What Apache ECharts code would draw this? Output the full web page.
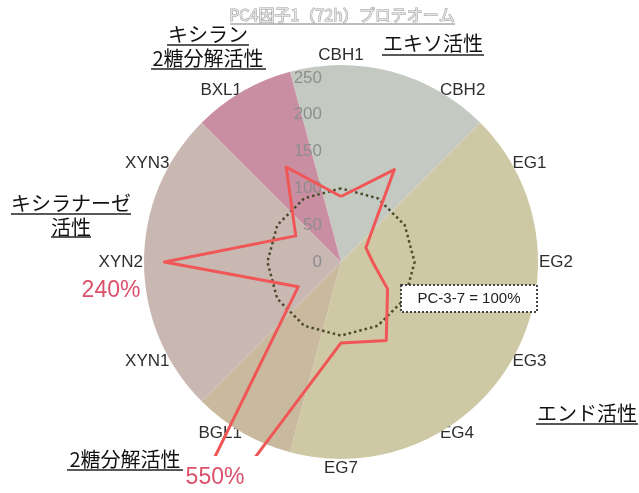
<!DOCTYPE html>
<html>
<head>
<meta charset="utf-8">
<script src="https://cdn.jsdelivr.net/npm/echarts@6/dist/echarts.min.js"></script>
<style>
html,body{margin:0;padding:0;background:#fff;}
#chart{width:639px;height:493px;}
</style>
</head>
<body>
<div id="chart"></div>
<script>
// Indicators, clockwise from top
const indicators = ['CBH1','CBH2','EG1','EG2','EG3','EG4','EG7','BGL1','XYN1','XYN2','XYN3','BXL1'];
// PC4 factor 1 (72h) proteome, % of PC-3-7
const pcValues = [89, 145, 39, 43, 73, 123, 110, 550, 67, 240, 71, 149];
// Reference PC-3-7 = 100%
const refValues = [100, 100, 100, 100, 100, 100, 100, 100, 100, 100, 100, 100];
// Radial tick labels
const tickLabels = [0, 50, 100, 150, 200, 250];
const axisMax = 250;
// Background groups (clockwise, in number of indicators)
const groupNames = ['exo', 'endo', 'bgl', 'xyn', 'bxl'];
const groupSizes = [2, 5, 1, 3, 1];
const groupColors = ['#c4cac2', '#cec9a4', '#c9b99f', '#c9b8b2', '#c98ea1'];

// ECharts radar runs counter-clockwise; reorder to get clockwise layout
const order = [0].concat(indicators.map((_, i) => i).slice(1).reverse());
const indOrdered = order.map((i, k) => ({
  name: indicators[i], min: 0, max: axisMax,
  axisLabel: { show: k === 0 }
}));
const pcOrdered = order.map(i => pcValues[i]);
const refOrdered = order.map(i => refValues[i]);

const CX = 341, CY = 262, R = 184;
const jp = '"Noto Sans CJK JP", sans-serif';
const lat = '"Liberation Sans", Arial, sans-serif';

const chart = echarts.init(document.getElementById('chart'), null, { renderer: 'canvas' });
const option = {
  animation: false,
  backgroundColor: '#ffffff',
  radar: {
    center: [CX, CY],
    radius: R,
    startAngle: 90,
    shape: 'polygon',
    splitNumber: tickLabels.length - 1,
    indicator: indOrdered,
    nameGap: 14,
    axisName: { color: '#2e2e2e', fontSize: 17, fontFamily: lat },
    axisLine: { show: false },
    axisTick: { show: false },
    axisLabel: { show: true, color: '#8e8e8e', fontSize: 17, margin: 19, fontFamily: lat },
    splitLine: { lineStyle: { color: 'rgba(255,238,185,0.75)', width: 1, type: [3, 2] } },
    splitArea: { show: false }
  },
  series: [
    {
      type: 'pie',
      z: 0,
      silent: true,
      center: [CX, CY],
      radius: [0, 197],
      startAngle: 105,
      clockwise: true,
      label: { show: false },
      labelLine: { show: false },
      itemStyle: { borderWidth: 0 },
      data: groupNames.map((n, i) => ({ name: n, value: groupSizes[i], itemStyle: { color: groupColors[i] } }))
    },
    {
      type: 'radar',
      z: 3,
      silent: true,
      symbol: 'none',
      data: [{ value: refOrdered }],
      lineStyle: { color: '#4b4b2c', width: 2.5, type: [2.5, 3] }
    },
    {
      type: 'radar',
      z: 4,
      silent: true,
      symbol: 'none',
      data: [{ value: pcOrdered }],
      lineStyle: { color: '#f05656', width: 3 }
    }
  ],
  graphic: [
    // clip mask for overflowing spike
    { type: 'rect', z: 50, shape: { x: 195, y: 456, width: 105, height: 40 }, style: { fill: '#fff' } },
    // title
    { type: 'text', z: 60,
      style: { text: 'PC4因子1（72h）プロテオーム', x: 342, y: 15, align: 'center', verticalAlign: 'middle',
        fontSize: 16, fontFamily: jp, fill: '#e4e4e4', stroke: '#9c9c9c', lineWidth: 1 } },
    { type: 'line', z: 60, shape: { x1: 230, y1: 24, x2: 455, y2: 24 }, style: { stroke: '#a8a8a8', lineWidth: 1.5 } },
    // group annotations
    { type: 'text', z: 60, style: { text: 'エキソ活性', x: 433, y: 43, align: 'center', verticalAlign: 'middle', fontSize: 20, fontFamily: jp, fill: '#111' } },
    { type: 'line', z: 60, shape: { x1: 382, y1: 55, x2: 484, y2: 55 }, style: { stroke: '#222', lineWidth: 1.5 } },

    { type: 'text', z: 60, style: { text: 'キシラン', x: 208, y: 34, align: 'center', verticalAlign: 'middle', fontSize: 20, fontFamily: jp, fill: '#111' } },
    { type: 'line', z: 60, shape: { x1: 167, y1: 45, x2: 249, y2: 45 }, style: { stroke: '#222', lineWidth: 1.5 } },
    { type: 'text', z: 60, style: { text: '2糖分解活性', x: 208, y: 58, align: 'center', verticalAlign: 'middle', fontSize: 20, fontFamily: jp, fill: '#111' } },
    { type: 'line', z: 60, shape: { x1: 151, y1: 69, x2: 266, y2: 69 }, style: { stroke: '#222', lineWidth: 1.5 } },

    { type: 'text', z: 60, style: { text: 'キシラナーゼ', x: 71, y: 203, align: 'center', verticalAlign: 'middle', fontSize: 20, fontFamily: jp, fill: '#111' } },
    { type: 'line', z: 60, shape: { x1: 11, y1: 214, x2: 131, y2: 214 }, style: { stroke: '#222', lineWidth: 1.5 } },
    { type: 'text', z: 60, style: { text: '活性', x: 71, y: 227, align: 'center', verticalAlign: 'middle', fontSize: 20, fontFamily: jp, fill: '#111' } },
    { type: 'line', z: 60, shape: { x1: 51, y1: 237, x2: 91, y2: 237 }, style: { stroke: '#222', lineWidth: 1.5 } },

    { type: 'text', z: 60, style: { text: 'エンド活性', x: 587, y: 413, align: 'center', verticalAlign: 'middle', fontSize: 20, fontFamily: jp, fill: '#111' } },
    { type: 'line', z: 60, shape: { x1: 536, y1: 424, x2: 638, y2: 424 }, style: { stroke: '#222', lineWidth: 1.5 } },

    { type: 'text', z: 60, style: { text: '2糖分解活性', x: 125, y: 459, align: 'center', verticalAlign: 'middle', fontSize: 20, fontFamily: jp, fill: '#111' } },
    { type: 'line', z: 60, shape: { x1: 67, y1: 470, x2: 183, y2: 470 }, style: { stroke: '#222', lineWidth: 1.5 } },

    // overflow value labels
    { type: 'text', z: 60, style: { text: pcValues[indicators.indexOf('XYN2')] + '%', x: 111, y: 291, align: 'center', verticalAlign: 'middle', fontSize: 23, fontFamily: lat, fill: '#dc506b' } },
    { type: 'text', z: 60, style: { text: pcValues[indicators.indexOf('BGL1')] + '%', x: 215, y: 478, align: 'center', verticalAlign: 'middle', fontSize: 23, fontFamily: lat, fill: '#dc506b' } },

    // reference box
    { type: 'rect', z: 60, shape: { x: 401, y: 285, width: 136, height: 27 },
      style: { fill: '#fff', stroke: '#444', lineWidth: 2, lineDash: [2, 2] } },
    { type: 'text', z: 61, style: { text: 'PC-3-7 = ' + refValues[0] + '%', x: 469, y: 299, align: 'center', verticalAlign: 'middle', fontSize: 15, fontFamily: lat, fill: '#222' } }
  ]
};
chart.setOption(option);
</script>
</body>
</html>
